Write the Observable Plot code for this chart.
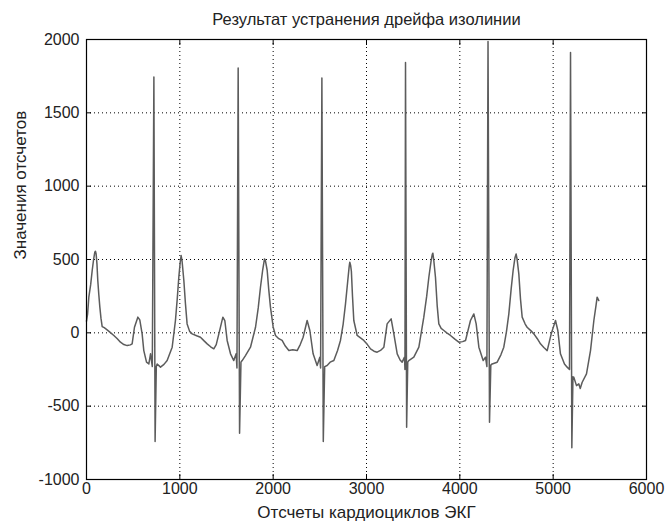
<!DOCTYPE html>
<html><head><meta charset="utf-8">
<script src="https://cdn.jsdelivr.net/npm/d3@7"></script>
<script src="https://cdn.jsdelivr.net/npm/@observablehq/plot@0.6"></script>
<style>body{margin:0;background:#fff}#chart{width:665px;height:524px}</style>
</head><body><div id="chart"></div>
<script>
const titleText = "Результат устранения дрейфа изолинии";
const xLabelText = "Отсчеты кардиоциклов ЭКГ";
const yLabelText = "Значения отсчетов";
const xTicks = [0, 1000, 2000, 3000, 4000, 5000, 6000];
const yTicks = [-1000, -500, 0, 500, 1000, 1500, 2000];

// sample index (x) and value (y)
const sampleIdx = [0,12,25,45,61,76,89,96,103,112,121,132,143,155,168,190,221,260,293,330,364,400,436,470,489,514,550,571,596,614,643,668,686,705,722,735,748,757,793,830,864,918,953,972,989,1004,1014,1024,1043,1060,1078,1105,1132,1180,1221,1260,1293,1330,1364,1390,1418,1461,1482,1507,1543,1578,1603,1612,1625,1640,1655,1668,1703,1757,1811,1840,1864,1888,1907,1916,1936,1952,1971,2000,2025,2060,2096,2130,2168,2210,2257,2290,2321,2364,2393,2428,2471,2500,2508,2522,2537,2552,2578,2610,2650,2690,2721,2750,2775,2800,2814,2821,2830,2838,2850,2864,2900,2971,3010,3043,3080,3114,3150,3186,3221,3264,3293,3329,3360,3382,3407,3412,3418,3430,3442,3453,3507,3561,3614,3645,3668,3692,3705,3711,3720,3739,3758,3775,3800,3829,3860,3900,3950,3989,4030,4061,4114,4150,4175,4204,4250,4275,4290,4302,4318,4332,4346,4400,4440,4471,4500,4525,4550,4571,4590,4603,4614,4632,4650,4668,4700,4721,4760,4793,4830,4864,4900,4936,4979,5025,5050,5078,5121,5150,5175,5186,5200,5212,5221,5250,5275,5290,5311,5357,5400,5436,5460,5471,5489];
const sampleVal = [80,130,243,330,425,500,550,556,538,470,357,260,175,100,43,35,20,0,-18,-40,-64,-80,-87,-82,-75,38,107,88,-7,-121,-200,-212,-143,-230,1745,-741,-230,-212,-234,-215,-189,-98,84,230,379,480,527,490,357,200,61,10,-7,-20,-30,-55,-75,-95,-109,-80,-7,107,84,-52,-143,-189,-143,-240,1805,-684,-200,-189,-155,-98,38,170,311,430,504,495,425,300,175,40,-18,-40,-52,-90,-121,-115,-121,-80,-30,84,16,-143,-223,-166,-240,1737,-741,-230,-223,-200,-189,-120,-52,60,197,360,450,482,460,420,250,84,-18,-52,-80,-109,-125,-132,-120,-98,61,95,-7,-143,-185,-200,-166,-250,1843,-643,-200,-189,-166,-98,107,250,379,490,535,543,500,379,180,61,30,16,0,-18,-45,-64,-60,-52,84,129,61,-98,-189,-166,-230,1986,-609,-220,-212,-200,-150,-98,10,129,300,425,510,538,500,402,230,107,60,38,15,-7,-40,-75,-100,-121,-7,84,16,-143,-212,-234,-250,1911,-784,-300,-303,-360,-348,-380,-337,-280,-121,84,190,243,220];

const data = sampleIdx.map((x, i) => ({x, y: sampleVal[i]}));
const font = '"Liberation Sans", Arial, sans-serif';

const chart = Plot.plot({
  width: 665, height: 524,
  marginLeft: 86, marginRight: 19, marginTop: 39, marginBottom: 45,
  style: {fontFamily: font, fontSize: "16px", background: "#fff", color: "#222"},
  x: {domain: [0, 6000], label: null},
  y: {domain: [-1000, 2000], label: null},
  marks: [
    Plot.gridX(xTicks, {stroke: "#000", strokeOpacity: 1, strokeDasharray: "1,3", strokeWidth: 1}),
    Plot.gridY(yTicks, {stroke: "#000", strokeOpacity: 1, strokeDasharray: "1,3", strokeWidth: 1}),
    Plot.axisX(xTicks, {anchor: "bottom", tickSize: 0, tickPadding: 3, tickFormat: d => String(d), fontSize: 16}),
    Plot.axisY(yTicks, {anchor: "left", tickSize: 0, tickPadding: 7, tickFormat: d => String(d), fontSize: 16}),
    Plot.axisX(xTicks, {anchor: "bottom", tickSize: -5, tickFormat: () => "", stroke: "#000"}),
    Plot.axisX(xTicks, {anchor: "top", tickSize: -5, tickFormat: () => "", stroke: "#000"}),
    Plot.axisY(yTicks, {anchor: "left", tickSize: -5, tickFormat: () => "", stroke: "#000"}),
    Plot.axisY(yTicks, {anchor: "right", tickSize: -5, tickFormat: () => "", stroke: "#000"}),
    Plot.line(data, {x: "x", y: "y", stroke: "#5c5c5c", strokeWidth: 1.5}),
    Plot.frame({stroke: "#000", strokeWidth: 1.2}),
    Plot.text([titleText], {frameAnchor: "top", lineAnchor: "middle", dy: -20, text: d => d, fontSize: 16.5, fill: "#222"}),
    Plot.text([xLabelText], {frameAnchor: "bottom", lineAnchor: "middle", dy: 33, text: d => d, fontSize: 17, fill: "#222"}),
    Plot.text([yLabelText], {frameAnchor: "left", lineAnchor: "middle", dx: -66, rotate: -90, text: d => d, fontSize: 17, fill: "#222"})
  ]
});
document.getElementById("chart").append(chart);
</script></body></html>
